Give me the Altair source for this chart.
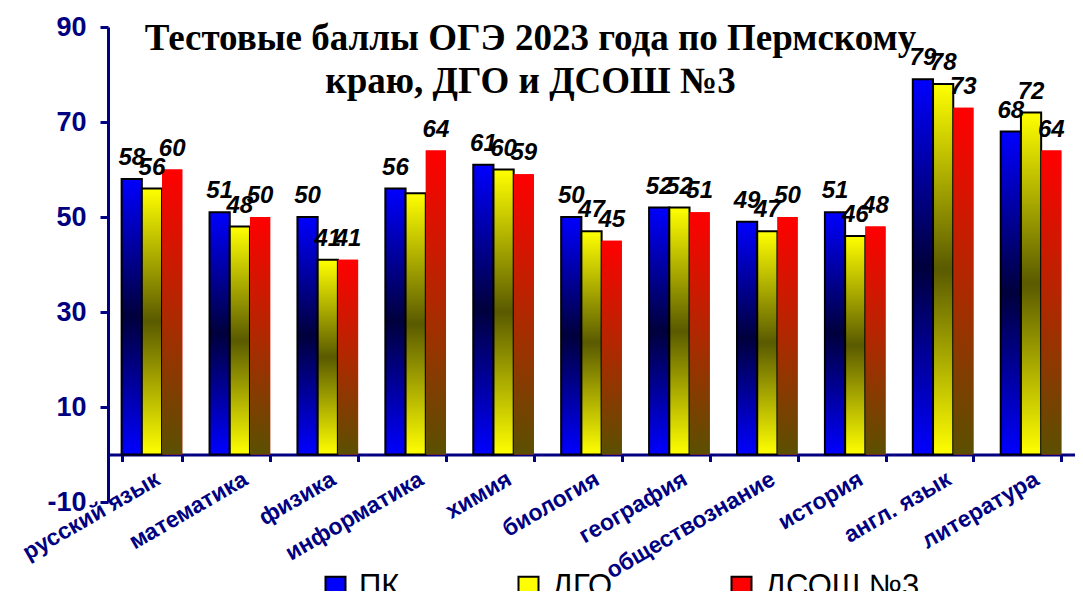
import altair as alt
import pandas as pd

categories = ["русский язык", "математика", "физика", "информатика", "химия",
              "биология", "география", "обществознание", "история", "англ. язык", "литература"]
series = ["ПК", "ДГО", "ДСОШ №3"]
pk = [58, 51, 50, 56, 61, 50, 52, 49, 51, 79, 68]
dgo = [56, 48, 41, 55, 60, 47, 52, 47, 46, 78, 72]
dsosh = [60, 50, 41, 64, 59, 45, 51, 50, 48, 73, 64]
y_ticks = [-10, 10, 30, 50, 70, 90]

rows = []
for name, vals in zip(series, [pk, dgo, dsosh]):
    for c, v in zip(categories, vals):
        rows.append({"cat": c, "s": name, "v": v})
df = pd.DataFrame(rows)

NAVY = "#000080"
LABEL_FONT = "Liberation Sans"


def grad(c_top, c_mid, c_bot):
    return alt.LinearGradient(
        gradient="linear", x1=0, x2=0, y1=0, y2=1,
        stops=[alt.GradientStop(offset=0, color=c_top),
               alt.GradientStop(offset=0.5, color=c_mid),
               alt.GradientStop(offset=1, color=c_bot)])


g_blue = grad("#0000FF", "#00003C", "#0000FF")
g_yellow = grad("#FFFF00", "#5A5A00", "#FFFF00")
g_red = grad("#FF0000", "#B02800", "#5A5000")

x_enc = alt.X("cat:N", sort=categories,
              scale=alt.Scale(paddingInner=0.31, paddingOuter=0.155),
              axis=alt.Axis(title=None, labelAngle=330, labelAlign="right", labelBaseline="top",
                            labelFontSize=23, labelFont=LABEL_FONT, labelFontWeight="bold",
                            labelColor=NAVY, labelPadding=6, labelLimit=400,
                            domainColor=NAVY, domainWidth=3, tickColor=NAVY, tickWidth=3,
                            tickSize=7, tickBand="extent", offset=-47.5))
xo_enc = alt.XOffset("s:N", sort=series, scale=alt.Scale(domain=series, paddingInner=0, paddingOuter=0))
y_enc = alt.Y("v:Q", scale=alt.Scale(domain=[-10, 90], nice=False, zero=False),
              axis=alt.Axis(title=None, values=y_ticks, labelFontSize=27, labelFont=LABEL_FONT,
                            labelFontWeight="bold", labelColor=NAVY, labelPadding=14,
                            labelExpr="datum.value < 0 ? '-' + abs(datum.value) : datum.label",
                            domainColor=NAVY, domainWidth=3, tickColor=NAVY, tickWidth=3,
                            tickSize=8, grid=False))

base = alt.Chart(df)

legend_bars = base.mark_bar().encode(
    x=x_enc, xOffset=xo_enc, y=y_enc, y2=alt.datum(0),
    color=alt.Color("s:N", sort=series,
                    scale=alt.Scale(domain=series, range=["#0000FF", "#FFFF00", "#FF0000"]),
                    legend=alt.Legend(title=None, orient="none", direction="horizontal",
                                      legendX=212, legendY=544, columnPadding=113,
                                      labelFontSize=31, labelFont=LABEL_FONT, labelColor="black",
                                      symbolType="square", symbolSize=400,
                                      symbolStrokeColor="black", symbolStrokeWidth=2,
                                      labelOffset=8)),
)

grad_bars = base.mark_bar(stroke="black").encode(
    x=x_enc, xOffset=xo_enc, y=y_enc, y2=alt.datum(0),
    color=alt.ColorValue(value=g_red, condition=[
        {"test": "datum.s === 'ПК'", "value": g_blue},
        {"test": "datum.s === 'ДГО'", "value": g_yellow},
    ]),
    strokeWidth=alt.condition("datum.s === 'ДСОШ №3'", alt.value(0), alt.value(2)),
)

labels = base.transform_filter(
    "!(datum.cat === 'информатика' && datum.s === 'ДГО')"
).mark_text(fontSize=24, font=LABEL_FONT, fontWeight="bold", fontStyle="italic",
            color="black", baseline="bottom", dy=-9).encode(
    x=x_enc, xOffset=xo_enc, y=y_enc, text="v:Q",
)

chart = alt.layer(legend_bars, grad_bars, labels).properties(
    width=967, height=475,
    autosize=alt.AutoSizeParams(type="none"),
    padding={"left": 100, "top": 19, "right": 0, "bottom": 89},
    title=alt.TitleParams(
        text=["Тестовые баллы ОГЭ 2023 года по Пермскому", "краю, ДГО и ДСОШ №3"],
        font="Liberation Serif", fontSize=37, fontWeight="bold", color="black",
        lineHeight=43, anchor="middle", dx=-61, dy=92),
).configure_view(stroke=None)

chart.save("out.html", embed_options={"renderer": "svg", "actions": False})
